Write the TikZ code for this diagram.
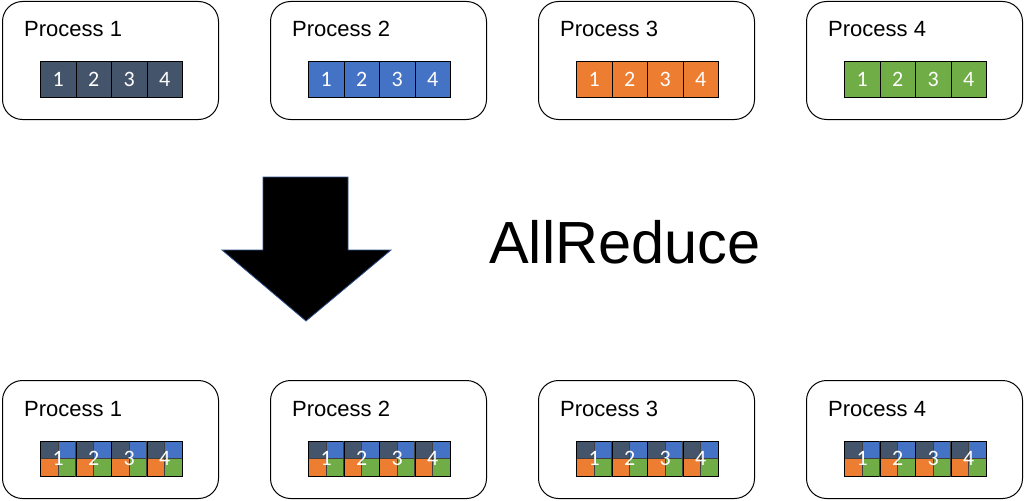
\documentclass[tikz,border=0pt]{standalone}
\usepackage{fontspec}
\setmainfont{Liberation Sans}
\newfontfamily\digitfont{Carlito}
\definecolor{cdark}{HTML}{44546A}
\definecolor{cblue}{HTML}{4472C4}
\definecolor{corange}{HTML}{ED7D31}
\definecolor{cgreen}{HTML}{70AD47}
\definecolor{arrowline}{HTML}{2F528F}
\begin{document}
\begin{tikzpicture}[x=1pt,y=-1pt,
  procbox/.style={draw=black, line width=1pt, rounded corners=20pt, minimum width=216pt, minimum height=118pt, anchor=north west, inner sep=0pt},
  proclabel/.style={anchor=base west, inner sep=0pt, font=\fontsize{22}{24}\selectfont},
  cell/.style={draw=black, line width=0.7pt, minimum width=35.5pt, minimum height=36pt, anchor=north west, inner sep=0pt, text=white, text depth=0pt, font=\digitfont\fontsize{22}{24}\selectfont},
  quad/.style={draw=black!75, line width=0.5pt},
  bigarrow/.style={fill=black, draw=arrowline, line width=0.8pt}]
\useasboundingbox (0,0) rectangle (1024,500);
\foreach \i/\col in {1/cdark,2/cblue,3/corange,4/cgreen} {
  \pgfmathsetmacro\xl{2+268*(\i-1)}
  % top
  \node[procbox] (top\i) at (\xl,1) {};
  \node[proclabel] (topl\i) at (\xl+22,37) {Process \i};
  \foreach \j in {1,2,3,4} {
    \node[cell, fill=\col] (t\i c\j) at (\xl+38+35.5*\j-35.5,61) {\j};
  }
  % bottom
  \node[procbox] (bot\i) at (\xl,380) {};
  \node[proclabel] (botl\i) at (\xl+22,416) {Process \i};
  \foreach \j in {1,2,3,4} {
    \pgfmathsetmacro\cx{\xl+38+35.5*\j-35.5}
    \fill[cdark] (\cx,441) rectangle ++(17.75,17.5);
    \fill[cblue] (\cx+17.75,441) rectangle ++(17.75,17.5);
    \fill[corange] (\cx,458.5) rectangle ++(17.75,17.5);
    \fill[cgreen] (\cx+17.75,458.5) rectangle ++(17.75,17.5);
    \draw[quad] (\cx,441) rectangle ++(17.75,17.5);
    \draw[quad] (\cx+17.75,441) rectangle ++(17.75,17.5);
    \draw[quad] (\cx,458.5) rectangle ++(17.75,17.5);
    \draw[quad] (\cx+17.75,458.5) rectangle ++(17.75,17.5);
    \node[cell, minimum height=35pt] (b\i c\j) at (\cx,441) {\j};
  }
}
\path[bigarrow] (263,177) -- (348,177) -- (348,250) -- (391,250) -- (306,321) -- (222,250) -- (263,250) -- cycle;
\node[anchor=base west, inner sep=0pt, font=\fontsize{59.5}{64}\selectfont] (allreduce) at (489,263) {AllReduce};
\end{tikzpicture}
\end{document}
